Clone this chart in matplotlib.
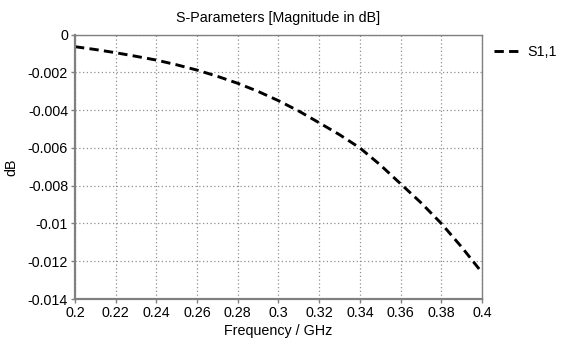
import matplotlib
matplotlib.use("Agg")
import matplotlib.pyplot as plt

plt.rcParams['font.family'] = ['Liberation Sans', 'DejaVu Sans']

freq = [0.20, 0.21, 0.22, 0.23, 0.24, 0.25, 0.26, 0.27, 0.28, 0.29, 0.30,
        0.31, 0.32, 0.33, 0.34, 0.35, 0.36, 0.37, 0.38, 0.39, 0.40]
s11 = [-0.00064, -0.00079, -0.00096, -0.00115, -0.00135, -0.00160, -0.00188,
       -0.00221, -0.00258, -0.00301, -0.00350, -0.00405, -0.00467, -0.00530,
       -0.00600, -0.00690, -0.00790, -0.00890, -0.01000, -0.01125, -0.01260]

xticks = [0.2, 0.22, 0.24, 0.26, 0.28, 0.3, 0.32, 0.34, 0.36, 0.38, 0.4]
xticklabels = ["0.2", "0.22", "0.24", "0.26", "0.28", "0.3", "0.32", "0.34", "0.36", "0.38", "0.4"]
yticks = [0, -0.002, -0.004, -0.006, -0.008, -0.01, -0.012, -0.014]
yticklabels = ["0", "-0.002", "-0.004", "-0.006", "-0.008", "-0.01", "-0.012", "-0.014"]

fig = plt.figure(figsize=(5.67, 3.45), dpi=100)
ax = fig.add_axes([75/567, 1-299/345, (482-75)/567, (299-34.6)/345])

ax.plot(freq, s11, color='black', lw=2.1, ls=(0, (3.2, 1.8)), label='S1,1')

ax.set_xlim(0.2, 0.4)
ax.set_ylim(-0.014, 0)
ax.set_xticks(xticks)
ax.set_xticklabels(xticklabels)
ax.set_yticks(yticks)
ax.set_yticklabels(yticklabels)
ax.tick_params(axis='both', labelsize=10.3, colors='black', length=3, width=1,
               color='#808080', pad=2)
ax.grid(True, color='#909090', ls=(0, (1, 2)), lw=0.9)

for side in ['left', 'bottom']:
    ax.spines[side].set_color('#808080')
    ax.spines[side].set_linewidth(1.6)
for side in ['top', 'right']:
    ax.spines[side].set_color('#808080')
    ax.spines[side].set_linewidth(1.0)

ax.set_title('S-Parameters [Magnitude in dB]', fontsize=10.3, pad=9)
ax.set_xlabel('Frequency / GHz', fontsize=10.3, labelpad=3)
ax.set_ylabel('dB', fontsize=10.3, labelpad=7)

leg = ax.legend(loc='upper left', bbox_to_anchor=(1.005, 1.0), frameon=False,
                fontsize=10.3, handlelength=2.0, handletextpad=0.3, borderaxespad=0.3)

fig.savefig('out.png', dpi=100)
